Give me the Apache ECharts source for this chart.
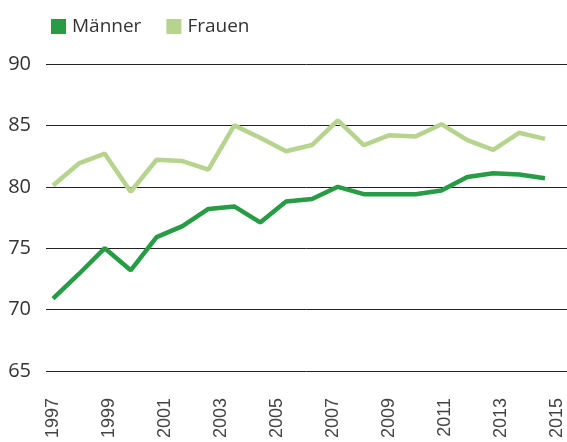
<!DOCTYPE html>
<html>
<head>
<meta charset="utf-8">
<script src="https://cdn.jsdelivr.net/npm/echarts@6/dist/echarts.min.js"></script>
<style>
  html, body { margin: 0; padding: 0; background: #fff; }
  #chart { width: 567px; height: 442px; }
</style>
</head>
<body>
<div id="chart"></div>
<script>
  // Datenpunkte (20 Stützstellen, wie im Bild gezeichnet)
  var punkte = ['1997', '1998', '1999', '2000', '2001', '2002', '2003', '2004', '2005', '2006',
    '2007', '2008', '2009', '2010', '2011', '2012', '2013', '2014', '2015', '2016'];
  var maenner = [70.9, 72.9, 75.0, 73.2, 75.9, 76.8, 78.2, 78.4, 77.1, 78.8,
    79.0, 80.0, 79.4, 79.4, 79.4, 79.7, 80.8, 81.1, 81.0, 80.7];
  var frauen = [80.1, 81.9, 82.7, 79.6, 82.2, 82.1, 81.4, 85.0, 84.0, 82.9,
    83.4, 85.4, 83.4, 84.2, 84.1, 85.1, 83.8, 83.0, 84.4, 83.9];
  // Beschriftung der x-Achse
  var jahre = [1997, 1999, 2001, 2003, 2005, 2007, 2009, 2011, 2013, 2015];
  var yTicks = [65, 70, 75, 80, 85, 90];

  var chart = echarts.init(document.getElementById('chart'));
  chart.setOption({
    backgroundColor: '#ffffff',
    animation: false,
    legend: {
      left: 46,
      top: 12,
      icon: 'rect',
      itemWidth: 15,
      itemHeight: 15,
      itemGap: 25,
      textStyle: {
        color: '#333333',
        fontSize: 19,
        fontFamily: 'Open Sans',
        padding: [0, 0, 0, 1]
      },
      data: ['Männer', 'Frauen']
    },
    grid: [
      { left: 46, right: 0, top: 64, height: 307 },
      { left: 53, right: 22, top: 64, height: 307 }
    ],
    xAxis: [{
      gridIndex: 0,
      type: 'value',
      min: 1996.75,
      max: 2015.36,
      axisLine: { show: false },
      axisTick: { show: false },
      splitLine: { show: false },
      axisLabel: {
        customValues: jahre,
        rotate: 90,
        margin: 27,
        color: '#444444',
        fontSize: 18,
        fontFamily: 'Liberation Sans',
        formatter: function (v) { return String(v); }
      }
    }, {
      gridIndex: 1,
      type: 'category',
      boundaryGap: false,
      data: punkte,
      show: false
    }],
    yAxis: [{
      gridIndex: 0,
      type: 'value',
      min: yTicks[0],
      max: yTicks[yTicks.length - 1],
      interval: 5,
      axisLine: { show: false },
      axisTick: { show: false },
      splitLine: { lineStyle: { color: '#222222', width: 1 } },
      axisLabel: {
        margin: 15,
        color: '#333333',
        fontSize: 20,
        fontFamily: 'Open Sans',
        verticalAlign: 'middle',
        padding: [0, 0, 10, 0]
      }
    }, {
      gridIndex: 1,
      type: 'value',
      min: yTicks[0],
      max: yTicks[yTicks.length - 1],
      show: false
    }],
    series: [{
      name: 'Männer',
      type: 'line',
      xAxisIndex: 1,
      yAxisIndex: 1,
      data: maenner,
      symbol: 'none',
      color: '#279c45',
      lineStyle: { width: 4.5, color: '#279c45' }
    }, {
      name: 'Frauen',
      type: 'line',
      xAxisIndex: 1,
      yAxisIndex: 1,
      data: frauen,
      symbol: 'none',
      color: '#b6d48e',
      lineStyle: { width: 4.5, color: '#b6d48e' }
    }]
  });
</script>
</body>
</html>
